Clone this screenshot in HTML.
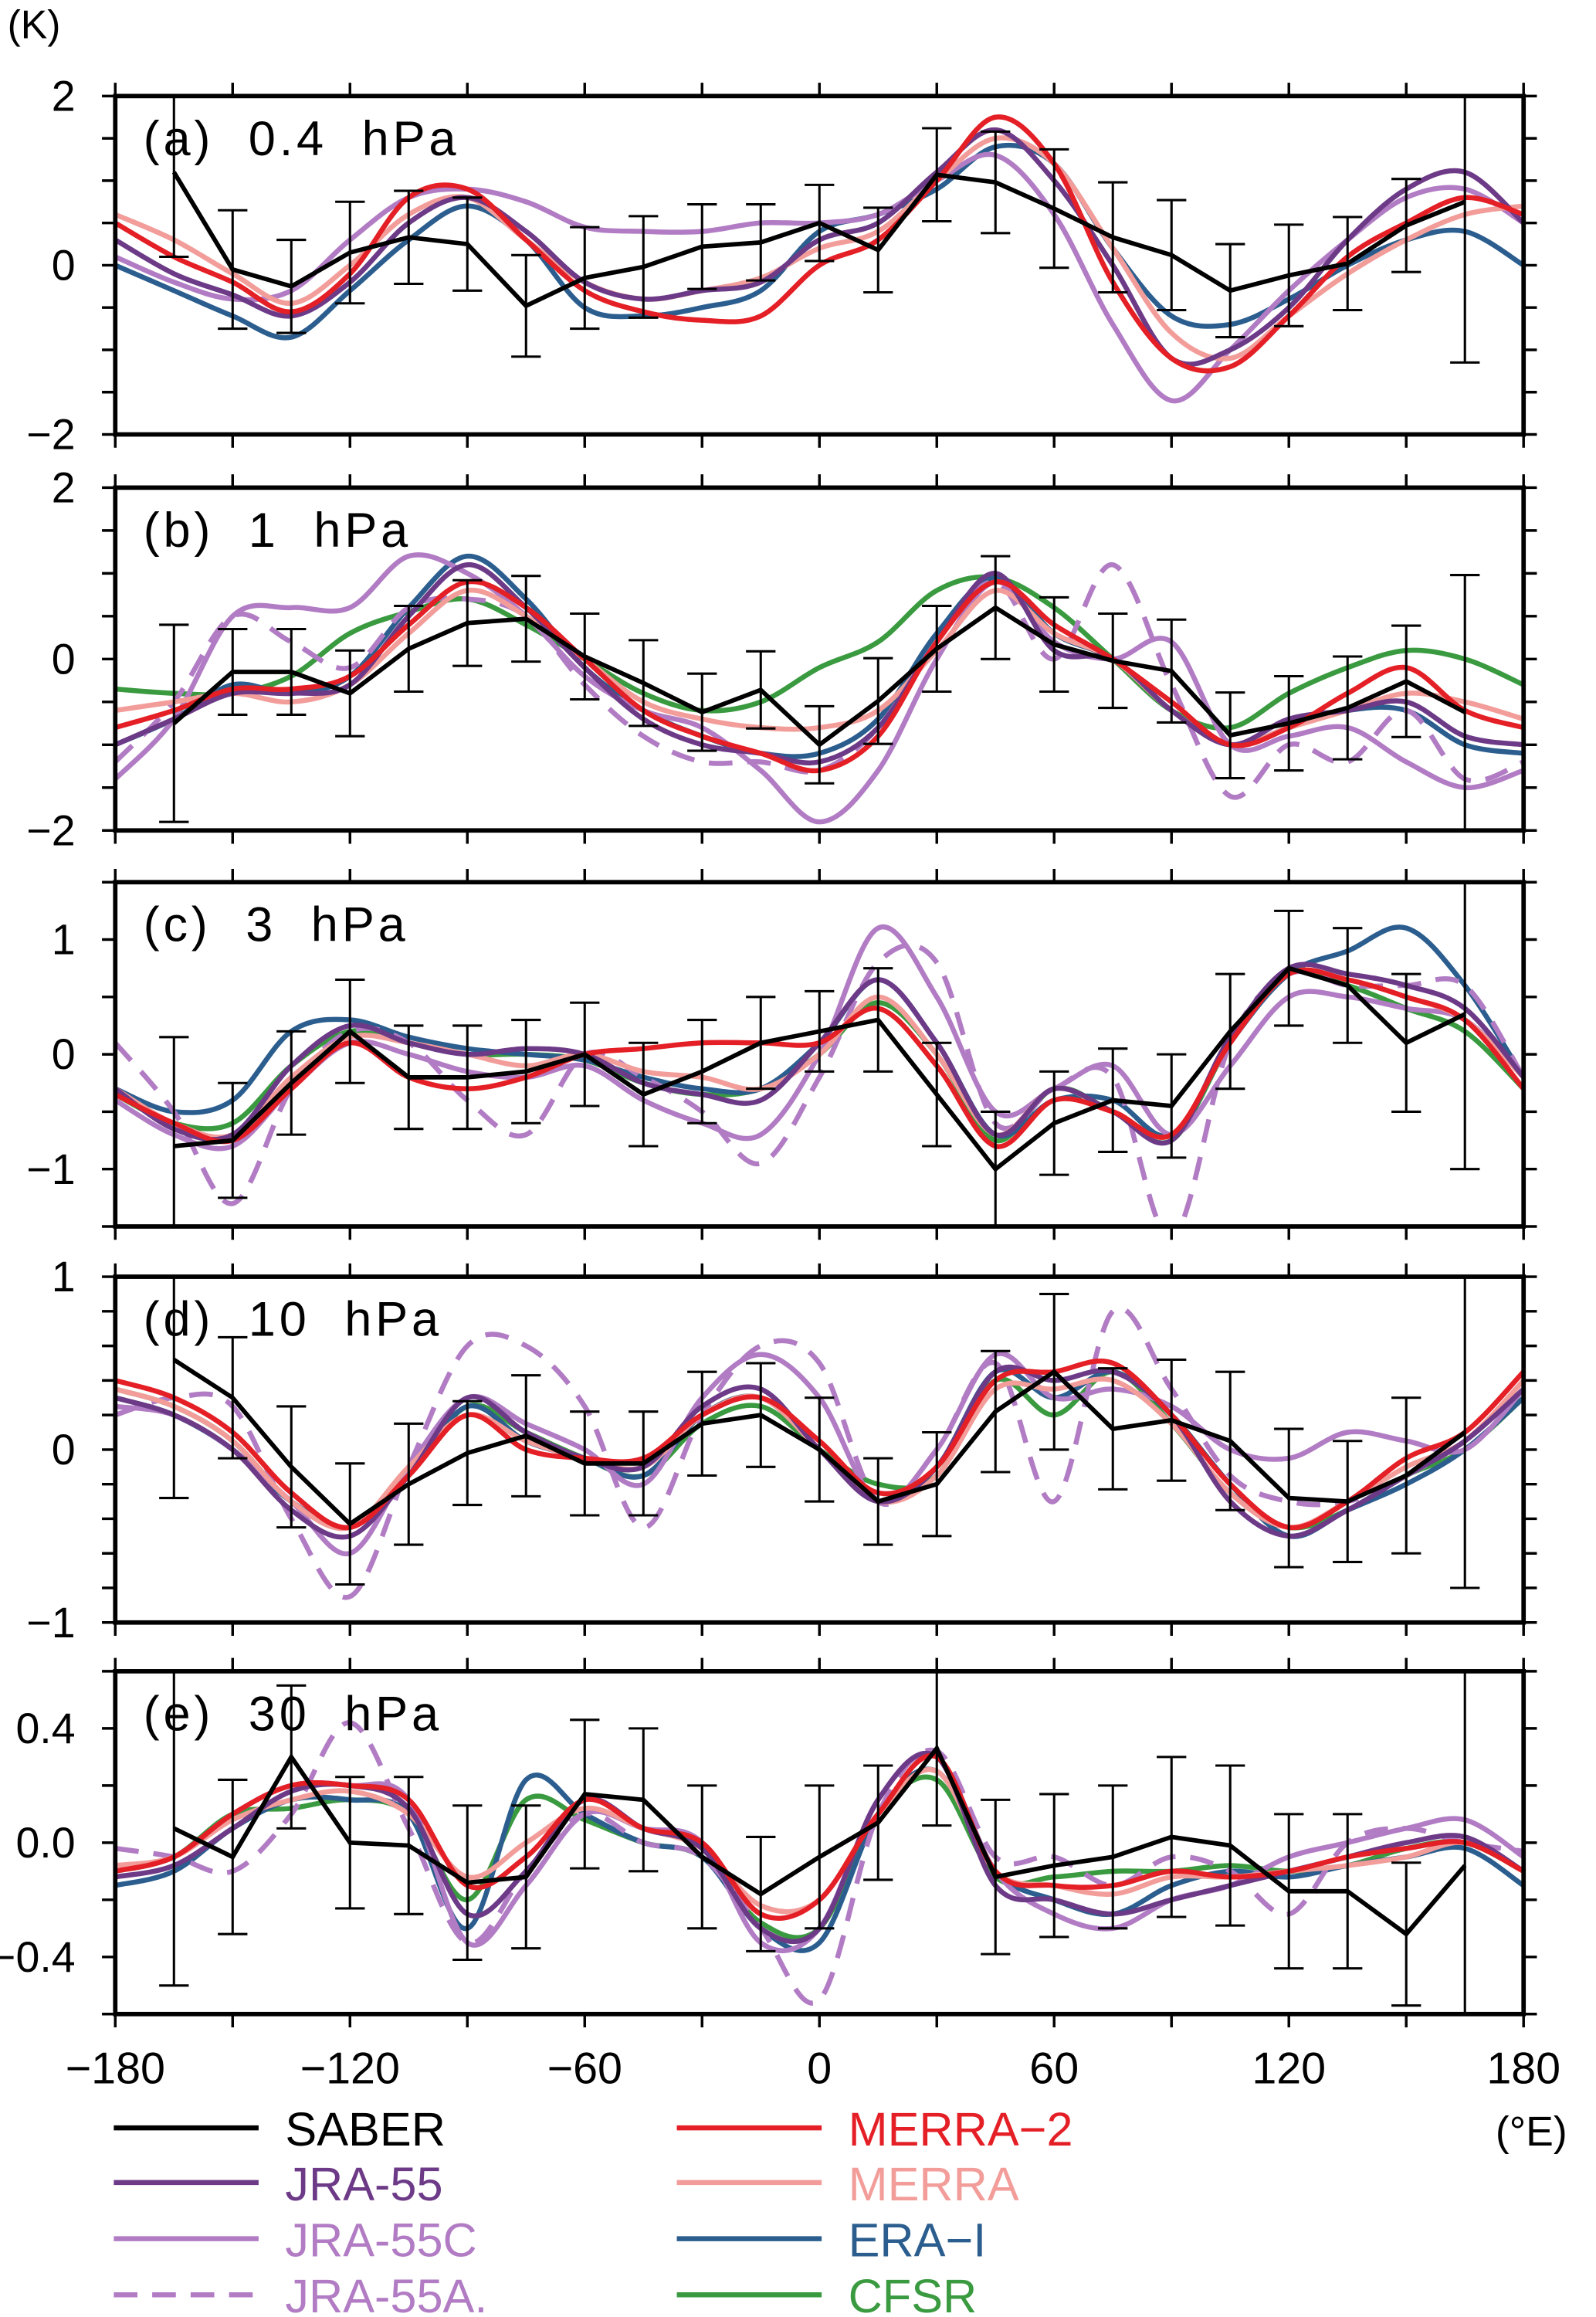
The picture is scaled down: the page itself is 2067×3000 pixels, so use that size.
<!DOCTYPE html>
<html><head><meta charset="utf-8"><style>
html,body{margin:0;padding:0;background:#fff;}
svg{display:block;}
text{font-family:"Liberation Sans","DejaVu Sans",sans-serif;fill:#000;}
</style></head><body>
<svg id="chart" width="2067" height="3000" viewBox="0 0 1080 1568" preserveAspectRatio="none" xmlns="http://www.w3.org/2000/svg">
<text x="5" y="26" font-size="27">(K)</text>
<g id="plots"></g>
<g id="legend"></g>
</svg>
<script>
// ---- data ----
const lons = [-180,-165,-150,-135,-120,-105,-90,-75,-60,-45,-30,-15,0,15,30,45,60,75,90,105,120,135,150,165,180];
const saberLons = [-165,-150,-135,-120,-105,-90,-75,-60,-45,-30,-15,0,15,30,45,60,75,90,105,120,135,150,165];
const xTicks = [-180,-120,-60,0,60,120,180];
const xTickLabels = ["\u2212180","\u2212120","\u221260","0","60","120","180"];
const panelTitles = ["(a) 0.4 hPa","(b) 1 hPa","(c) 3 hPa","(d) 10 hPa","(e) 30 hPa"];
const yRanges = [[-2,2],[-2,2],[-1.5,1.5],[-1,1],[-0.6,0.6]];
const yTickVals = [[-2,0,2],[-2,0,2],[-1,0,1],[-1,0,1],[-0.4,0,0.4]];
const yTickLabels = [["\u22122","0","2"],["\u22122","0","2"],["\u22121","0","1"],["\u22121","0","1"],["\u22120.4","0.0","0.4"]];
const yMinorStep = [0.5,0.5,0.5,0.2,0.2];

const saberA = [1.1,-0.05,-0.25,0.15,0.33,0.25,-0.48,-0.15,-0.02,0.22,0.27,0.5,0.18,1.07,0.98,0.67,0.33,0.12,-0.3,-0.12,0.02,0.47,0.75];
const saberErrA = [1.0,0.7,0.55,0.6,0.55,0.55,0.6,0.6,0.6,0.5,0.45,0.45,0.5,0.55,0.6,0.7,0.65,0.65,0.55,0.6,0.55,0.55,1.9];
const saberB = [-0.75,-0.15,-0.15,-0.4,0.12,0.42,0.47,0.03,-0.28,-0.62,-0.36,-1.0,-0.49,0.12,0.6,0.17,-0.02,-0.14,-0.89,-0.75,-0.57,-0.26,-0.62];
const saberErrB = [1.15,0.5,0.5,0.5,0.5,0.5,0.5,0.5,0.5,0.45,0.45,0.45,0.5,0.5,0.6,0.55,0.55,0.6,0.5,0.55,0.6,0.65,1.6];
const saberC = [-0.8,-0.75,-0.25,0.2,-0.2,-0.2,-0.15,0.0,-0.35,-0.15,0.1,0.2,0.3,-0.35,-1.0,-0.6,-0.4,-0.45,0.2,0.75,0.6,0.1,0.35];
const saberErrC = [0.95,0.5,0.45,0.45,0.45,0.45,0.45,0.45,0.45,0.45,0.4,0.35,0.45,0.45,0.5,0.45,0.45,0.45,0.5,0.5,0.5,0.6,1.35];
const saberD = [0.52,0.3,-0.1,-0.43,-0.2,-0.02,0.08,-0.08,-0.08,0.15,0.2,0.0,-0.3,-0.2,0.22,0.45,0.12,0.17,0.05,-0.28,-0.3,-0.15,0.1];
const saberErrD = [0.8,0.35,0.35,0.35,0.35,0.3,0.35,0.3,0.3,0.3,0.3,0.3,0.25,0.3,0.35,0.45,0.35,0.35,0.4,0.4,0.35,0.45,0.9];
const saberE = [0.05,-0.05,0.3,0.0,-0.01,-0.14,-0.12,0.17,0.15,-0.05,-0.18,-0.05,0.07,0.33,-0.12,-0.08,-0.05,0.02,-0.01,-0.17,-0.17,-0.32,-0.08];
const saberErrE = [0.55,0.27,0.25,0.23,0.24,0.27,0.25,0.26,0.25,0.25,0.2,0.25,0.2,0.27,0.27,0.25,0.25,0.28,0.28,0.27,0.27,0.25,0.9];

const merra2A = [0.5,0.1,-0.2,-0.55,-0.1,0.8,0.9,0.3,-0.3,-0.55,-0.65,-0.6,0.0,0.3,1.0,1.75,1.2,-0.2,-1.1,-1.2,-0.6,0.1,0.5,0.8,0.6];
const merraA = [0.6,0.3,-0.1,-0.45,0.0,0.6,0.8,0.3,-0.2,-0.4,-0.3,-0.15,0.2,0.4,1.0,1.5,1.2,0.2,-0.8,-1.1,-0.6,-0.1,0.3,0.6,0.7];
const jra55A = [0.3,-0.1,-0.35,-0.6,-0.2,0.5,0.8,0.4,-0.2,-0.4,-0.3,-0.2,0.3,0.5,1.1,1.6,1.0,0.0,-1.1,-1.0,-0.5,0.3,0.9,1.1,0.5];
const jra55cA = [0.1,-0.2,-0.4,-0.3,0.3,0.8,0.9,0.75,0.45,0.4,0.4,0.5,0.5,0.6,1.0,1.3,0.6,-0.7,-1.6,-1.0,-0.3,0.3,0.8,0.9,0.5];
const eraiA = [0.0,-0.3,-0.6,-0.85,-0.3,0.3,0.7,0.3,-0.5,-0.6,-0.5,-0.3,0.4,0.6,0.9,1.4,1.2,0.2,-0.6,-0.7,-0.4,0.0,0.3,0.4,0.0];

const merra2B = [-0.8,-0.6,-0.35,-0.35,-0.2,0.4,0.9,0.6,0.0,-0.6,-0.9,-1.1,-1.3,-0.9,0.2,0.9,0.4,0.0,-0.5,-1.0,-0.8,-0.4,-0.1,-0.6,-0.8];
const merraB = [-0.6,-0.5,-0.4,-0.5,-0.3,0.3,0.8,0.5,0.0,-0.5,-0.7,-0.8,-0.8,-0.6,0.1,0.8,0.3,0.0,-0.6,-1.0,-0.8,-0.6,-0.4,-0.5,-0.7];
const jra55B = [-1.0,-0.7,-0.4,-0.4,-0.3,0.5,1.1,0.6,-0.1,-0.7,-1.0,-1.1,-1.2,-0.8,0.2,1.0,0.1,0.0,-0.6,-1.0,-0.7,-0.6,-0.5,-0.9,-1.0];
const jra55cB = [-1.4,-0.7,0.5,0.6,0.6,1.2,1.0,0.5,-0.2,-0.6,-0.8,-1.3,-1.9,-1.3,0.0,0.9,0.2,0.0,0.2,-1.0,-0.9,-0.8,-1.2,-1.5,-1.3];
const jra55amB = [-1.2,-0.5,0.5,0.2,-0.1,0.6,0.7,0.5,-0.3,-0.9,-1.2,-1.2,-1.3,-0.8,0.2,0.9,0.0,1.1,-0.3,-1.6,-1.0,-1.2,-0.6,-1.4,-1.2];
const eraiB = [-1.0,-0.7,-0.3,-0.4,-0.2,0.6,1.2,0.7,-0.1,-0.6,-0.9,-1.1,-1.1,-0.7,0.3,0.95,0.3,0.0,-0.6,-1.0,-0.8,-0.6,-0.6,-1.0,-1.1];
const cfsrB = [-0.35,-0.4,-0.4,-0.2,0.3,0.55,0.7,0.4,0.0,-0.4,-0.6,-0.5,-0.1,0.2,0.8,0.95,0.6,0.0,-0.6,-0.8,-0.4,-0.1,0.1,0.0,-0.3];

const merra2C = [-0.35,-0.6,-0.75,-0.3,0.1,-0.2,-0.3,-0.2,0.0,0.05,0.1,0.1,0.1,0.4,-0.1,-0.8,-0.4,-0.5,-0.7,0.1,0.7,0.65,0.5,0.3,-0.3];
const merraC = [-0.3,-0.6,-0.7,-0.2,0.15,0.1,0.0,-0.1,0.0,-0.15,-0.2,-0.3,0.0,0.5,0.0,-0.7,-0.3,-0.5,-0.7,0.1,0.7,0.65,0.5,0.3,-0.2];
const jra55C = [-0.3,-0.65,-0.7,-0.1,0.25,0.1,0.0,0.05,0.0,-0.25,-0.35,-0.4,0.1,0.65,0.1,-0.7,-0.3,-0.5,-0.75,0.15,0.75,0.7,0.6,0.4,-0.2];
const jra55cC = [-0.4,-0.7,-0.8,-0.3,0.1,0.0,-0.15,-0.2,-0.1,-0.4,-0.6,-0.7,0.0,1.1,0.5,-0.5,-0.3,-0.1,-0.7,-0.1,0.5,0.5,0.4,0.3,-0.2];
const jra55amC = [0.1,-0.5,-1.3,-0.3,0.2,0.1,-0.4,-0.7,0.0,-0.2,-0.5,-0.95,-0.2,0.8,0.8,-0.6,-0.3,-0.2,-1.6,0.1,0.7,0.6,0.6,0.6,-0.2];
const eraiC = [-0.3,-0.5,-0.4,0.2,0.3,0.15,0.05,0.0,-0.05,-0.2,-0.3,-0.3,0.1,0.65,0.1,-0.7,-0.4,-0.4,-0.7,0.1,0.7,0.9,1.1,0.6,-0.2];
const cfsrC = [-0.35,-0.6,-0.6,-0.1,0.2,0.1,0.0,0.0,-0.05,-0.25,-0.35,-0.3,0.0,0.45,0.0,-0.75,-0.3,-0.5,-0.75,0.1,0.7,0.6,0.4,0.2,-0.3];

const merra2D = [0.4,0.3,0.1,-0.25,-0.45,-0.15,0.2,0.0,-0.05,-0.05,0.2,0.3,0.05,-0.25,-0.1,0.4,0.45,0.5,0.2,-0.2,-0.45,-0.3,-0.05,0.1,0.45];
const merraD = [0.35,0.25,0.05,-0.3,-0.45,-0.1,0.2,0.05,-0.05,-0.1,0.2,0.3,0.0,-0.3,-0.15,0.35,0.35,0.4,0.15,-0.25,-0.45,-0.3,-0.1,0.05,0.4];
const jra55D = [0.3,0.2,0.0,-0.35,-0.5,-0.15,0.3,0.1,-0.05,-0.1,0.25,0.35,0.0,-0.3,-0.1,0.45,0.4,0.45,0.2,-0.3,-0.5,-0.35,-0.15,0.05,0.35];
const jra55cD = [0.25,0.2,0.0,-0.3,-0.6,-0.1,0.3,0.15,0.0,-0.2,0.3,0.55,0.3,-0.3,0.0,0.55,0.3,0.35,0.25,0.0,-0.05,0.1,0.05,0.0,0.35];
const jra55amD = [0.2,0.3,0.25,-0.4,-0.85,-0.1,0.6,0.6,0.25,-0.45,0.2,0.6,0.5,-0.3,0.0,0.5,-0.3,0.8,0.35,-0.15,-0.3,-0.3,-0.15,0.05,0.35];
const eraiD = [0.3,0.2,0.0,-0.3,-0.45,-0.15,0.25,0.05,-0.05,-0.15,0.2,0.3,0.0,-0.3,-0.1,0.45,0.3,0.45,0.2,-0.2,-0.5,-0.35,-0.2,0.0,0.3];
const cfsrD = [0.35,0.25,0.05,-0.3,-0.45,-0.15,0.25,0.1,-0.05,-0.15,0.15,0.25,0.0,-0.2,-0.15,0.4,0.2,0.45,0.15,-0.25,-0.45,-0.35,-0.15,0.0,0.3];

const merra2E = [-0.1,-0.05,0.1,0.2,0.2,0.15,-0.15,-0.05,0.15,0.05,0.0,-0.25,-0.2,0.1,0.3,-0.1,-0.15,-0.15,-0.1,-0.12,-0.1,-0.05,-0.02,0.0,-0.1];
const merraE = [-0.08,-0.05,0.08,0.15,0.18,0.1,-0.12,0.0,0.12,0.05,-0.02,-0.22,-0.2,0.1,0.25,-0.1,-0.15,-0.18,-0.12,-0.12,-0.1,-0.08,-0.05,0.0,-0.1];
const jra55E = [-0.12,-0.08,0.05,0.18,0.2,0.12,-0.25,-0.1,0.15,0.05,-0.02,-0.3,-0.3,0.15,0.3,-0.15,-0.2,-0.25,-0.2,-0.15,-0.1,-0.05,0.0,0.02,-0.1];
const jra55cE = [-0.1,-0.05,0.1,0.2,0.2,0.15,-0.35,-0.15,0.1,0.05,0.0,-0.35,-0.3,0.15,0.3,-0.1,-0.25,-0.3,-0.2,-0.15,-0.05,0.0,0.05,0.08,-0.05];
const jra55amE = [-0.02,-0.05,-0.1,0.1,0.42,0.05,-0.35,-0.1,0.1,0.0,-0.05,-0.3,-0.55,0.1,0.32,-0.05,-0.05,-0.15,-0.05,-0.1,-0.25,0.0,0.05,0.0,-0.03];
const eraiE = [-0.15,-0.1,0.05,0.15,0.15,0.1,-0.3,0.22,0.1,0.0,-0.05,-0.3,-0.35,0.1,0.25,-0.1,-0.2,-0.25,-0.15,-0.1,-0.12,-0.08,-0.05,-0.02,-0.15];
const cfsrE = [-0.1,-0.05,0.1,0.12,0.15,0.1,-0.2,0.15,0.08,0.0,-0.05,-0.28,-0.3,0.1,0.22,-0.12,-0.12,-0.1,-0.1,-0.08,-0.1,-0.08,-0.02,0.0,-0.1];

const seriesNames = ["CFSR","ERA-I","JRA-55AMIP","JRA-55C","MERRA","JRA-55","MERRA-2"];
const seriesColors = {"CFSR":"#3a9a40","ERA-I":"#2b5e8e","JRA-55AMIP":"#b17cc4","JRA-55C":"#b17cc4","MERRA":"#f29d9a","JRA-55":"#6d3a87","MERRA-2":"#e41f26"};
const panelSeries = [
 {"ERA-I":eraiA,"JRA-55C":jra55cA,"MERRA":merraA,"JRA-55":jra55A,"MERRA-2":merra2A},
 {"CFSR":cfsrB,"ERA-I":eraiB,"JRA-55AMIP":jra55amB,"JRA-55C":jra55cB,"MERRA":merraB,"JRA-55":jra55B,"MERRA-2":merra2B},
 {"CFSR":cfsrC,"ERA-I":eraiC,"JRA-55AMIP":jra55amC,"JRA-55C":jra55cC,"MERRA":merraC,"JRA-55":jra55C,"MERRA-2":merra2C},
 {"CFSR":cfsrD,"ERA-I":eraiD,"JRA-55AMIP":jra55amD,"JRA-55C":jra55cD,"MERRA":merraD,"JRA-55":jra55D,"MERRA-2":merra2D},
 {"CFSR":cfsrE,"ERA-I":eraiE,"JRA-55AMIP":jra55amE,"JRA-55C":jra55cE,"MERRA":merraE,"JRA-55":jra55E,"MERRA-2":merra2E}
];
const saberVals = [saberA,saberB,saberC,saberD,saberE];
const saberErrs = [saberErrA,saberErrB,saberErrC,saberErrD,saberErrE];

// ---- layout ----
const L = 78, R = 1031;
const tops = [65,330,597,864,1131];
const bots = [294,562,830,1098,1363];
const NS = "http://www.w3.org/2000/svg";
const root = document.getElementById('plots');
function mk(tag, attrs, parent){const e=document.createElementNS(NS,tag);for(const k in attrs)e.setAttribute(k,attrs[k]);(parent||root).appendChild(e);return e;}
function xs(lon){return L+(lon+180)/360*(R-L);}
function smooth(pts){
  let d="M"+pts[0][0].toFixed(2)+","+pts[0][1].toFixed(2);
  for(let i=0;i<pts.length-1;i++){
    const p0=pts[Math.max(0,i-1)],p1=pts[i],p2=pts[i+1],p3=pts[Math.min(pts.length-1,i+2)];
    const c1=[p1[0]+(p2[0]-p0[0])/6,p1[1]+(p2[1]-p0[1])/6];
    const c2=[p2[0]-(p3[0]-p1[0])/6,p2[1]-(p3[1]-p1[1])/6];
    d+="C"+c1[0].toFixed(2)+","+c1[1].toFixed(2)+" "+c2[0].toFixed(2)+","+c2[1].toFixed(2)+" "+p2[0].toFixed(2)+","+p2[1].toFixed(2);
  }
  return d;
}
const defs = mk('defs',{});
for(let p=0;p<5;p++){
  const T=tops[p],B=bots[p],[y0,y1]=yRanges[p];
  const ys=v=>B-(v-y0)/(y1-y0)*(B-T);
  const g=mk('g',{});
  
  
  const cp=mk('clipPath',{id:'clip'+p},defs);
  mk('rect',{x:L,y:T,width:R-L,height:B-T},cp);
  const plot=mk('g',{'clip-path':'url(#clip'+p+')'},g);
  // reanalysis curves
  for(const name of seriesNames){
    const vals=panelSeries[p][name]; if(!vals) continue;
    const pts=lons.map((lo,i)=>[xs(lo),ys(vals[i])]);
    const path=mk('path',{d:smooth(pts),fill:'none',stroke:seriesColors[name],'stroke-width':3.4,'stroke-linejoin':'round'},plot);
    if(name==="JRA-55AMIP") path.setAttribute('stroke-dasharray','16,10');
    
    
  }
  // SABER error bars
  const sv=saberVals[p],se=saberErrs[p];
  saberLons.forEach((lo,i)=>{
    const x=xs(lo),yt=Math.max(T,ys(sv[i]+se[i])),yb=Math.min(B,ys(sv[i]-se[i]));
    const eb=mk('path',{d:`M${x},${yt}V${yb}`+(ys(sv[i]+se[i])>=T?`M${x-10},${yt}H${x+10}`:'')+(ys(sv[i]-se[i])<=B?`M${x-10},${yb}H${x+10}`:''),stroke:'#000','stroke-width':1.6,fill:'none'},plot);
    
    
  });
  const sl=mk('polyline',{points:saberLons.map((lo,i)=>xs(lo)+','+ys(sv[i])).join(' '),fill:'none',stroke:'#000','stroke-width':3,'stroke-linejoin':'miter'},plot);
  
  
  // frame
  const fr=mk('rect',{x:L,y:T,width:R-L,height:B-T,fill:'none',stroke:'#000','stroke-width':3},g);
  
  
  // y ticks (minor+major), outward both sides
  let d='';
  for(let v=y0;v<=y1+1e-9;v+=yMinorStep[p]){const y=ys(v);d+=`M${L-9},${y}H${L}M${R},${y}H${R+9}`;}
  for(let lo=-180;lo<=180;lo+=30){const x=xs(lo);d+=`M${x},${T-9}V${T}M${x},${B}V${B+9}`;}
  mk('path',{d:d,stroke:'#000','stroke-width':1.8},g);
  yTickVals[p].forEach((v,i)=>{
    const t=mk('text',{x:51,y:ys(v)+10,'font-size':29,'text-anchor':'end'},g);
    t.textContent=yTickLabels[p][i];
    
    
  });
  const tt=mk('text',{x:97,y:T+40,'font-size':33,'letter-spacing':'2.5','xml:space':'preserve'},g);
  tt.textContent=panelTitles[p].replace(/ /g,'\u00a0\u00a0');
  
  
}
xTicks.forEach((lo,i)=>{
  const t=mk('text',{x:xs(lo),y:1410,'font-size':30,'text-anchor':'middle'});
  t.textContent=xTickLabels[i];
  
  
});
const xu=mk('text',{x:1012,y:1452,'font-size':28});
xu.textContent="(\u00b0E)";



// legend
const lg=document.getElementById('legend');
const legendItems=[["SABER","#000",false,0,0],["JRA-55","#6d3a87",false,0,1],["JRA-55C","#b17cc4",false,0,2],["JRA-55A.","#b17cc4",true,0,3],
 ["MERRA\u22122","#e41f26",false,1,0],["MERRA","#f29d9a",false,1,1],["ERA\u2212I","#2b5e8e",false,1,2],["CFSR","#3a9a40",false,1,3]];
const rowY=[1440,1477,1515,1553];
legendItems.forEach(it=>{
  const x0=it[3]?458:77, y=rowY[it[4]];
  const gg=mk('g',{},lg);
  
  
  const ln=mk('line',{x1:x0,y1:y,x2:x0+98,y2:y,stroke:it[1],'stroke-width':3.4},gg);
  if(it[2]) ln.setAttribute('stroke-dasharray','16,10');
  const t=mk('text',{x:x0+116,y:y+12,'font-size':32,fill:it[0]==="SABER"?"#000":it[1]},gg);
  t.style.fill=it[0]==="SABER"?"#000":it[1];
  t.textContent=it[0];
});
</script>
</body></html>
